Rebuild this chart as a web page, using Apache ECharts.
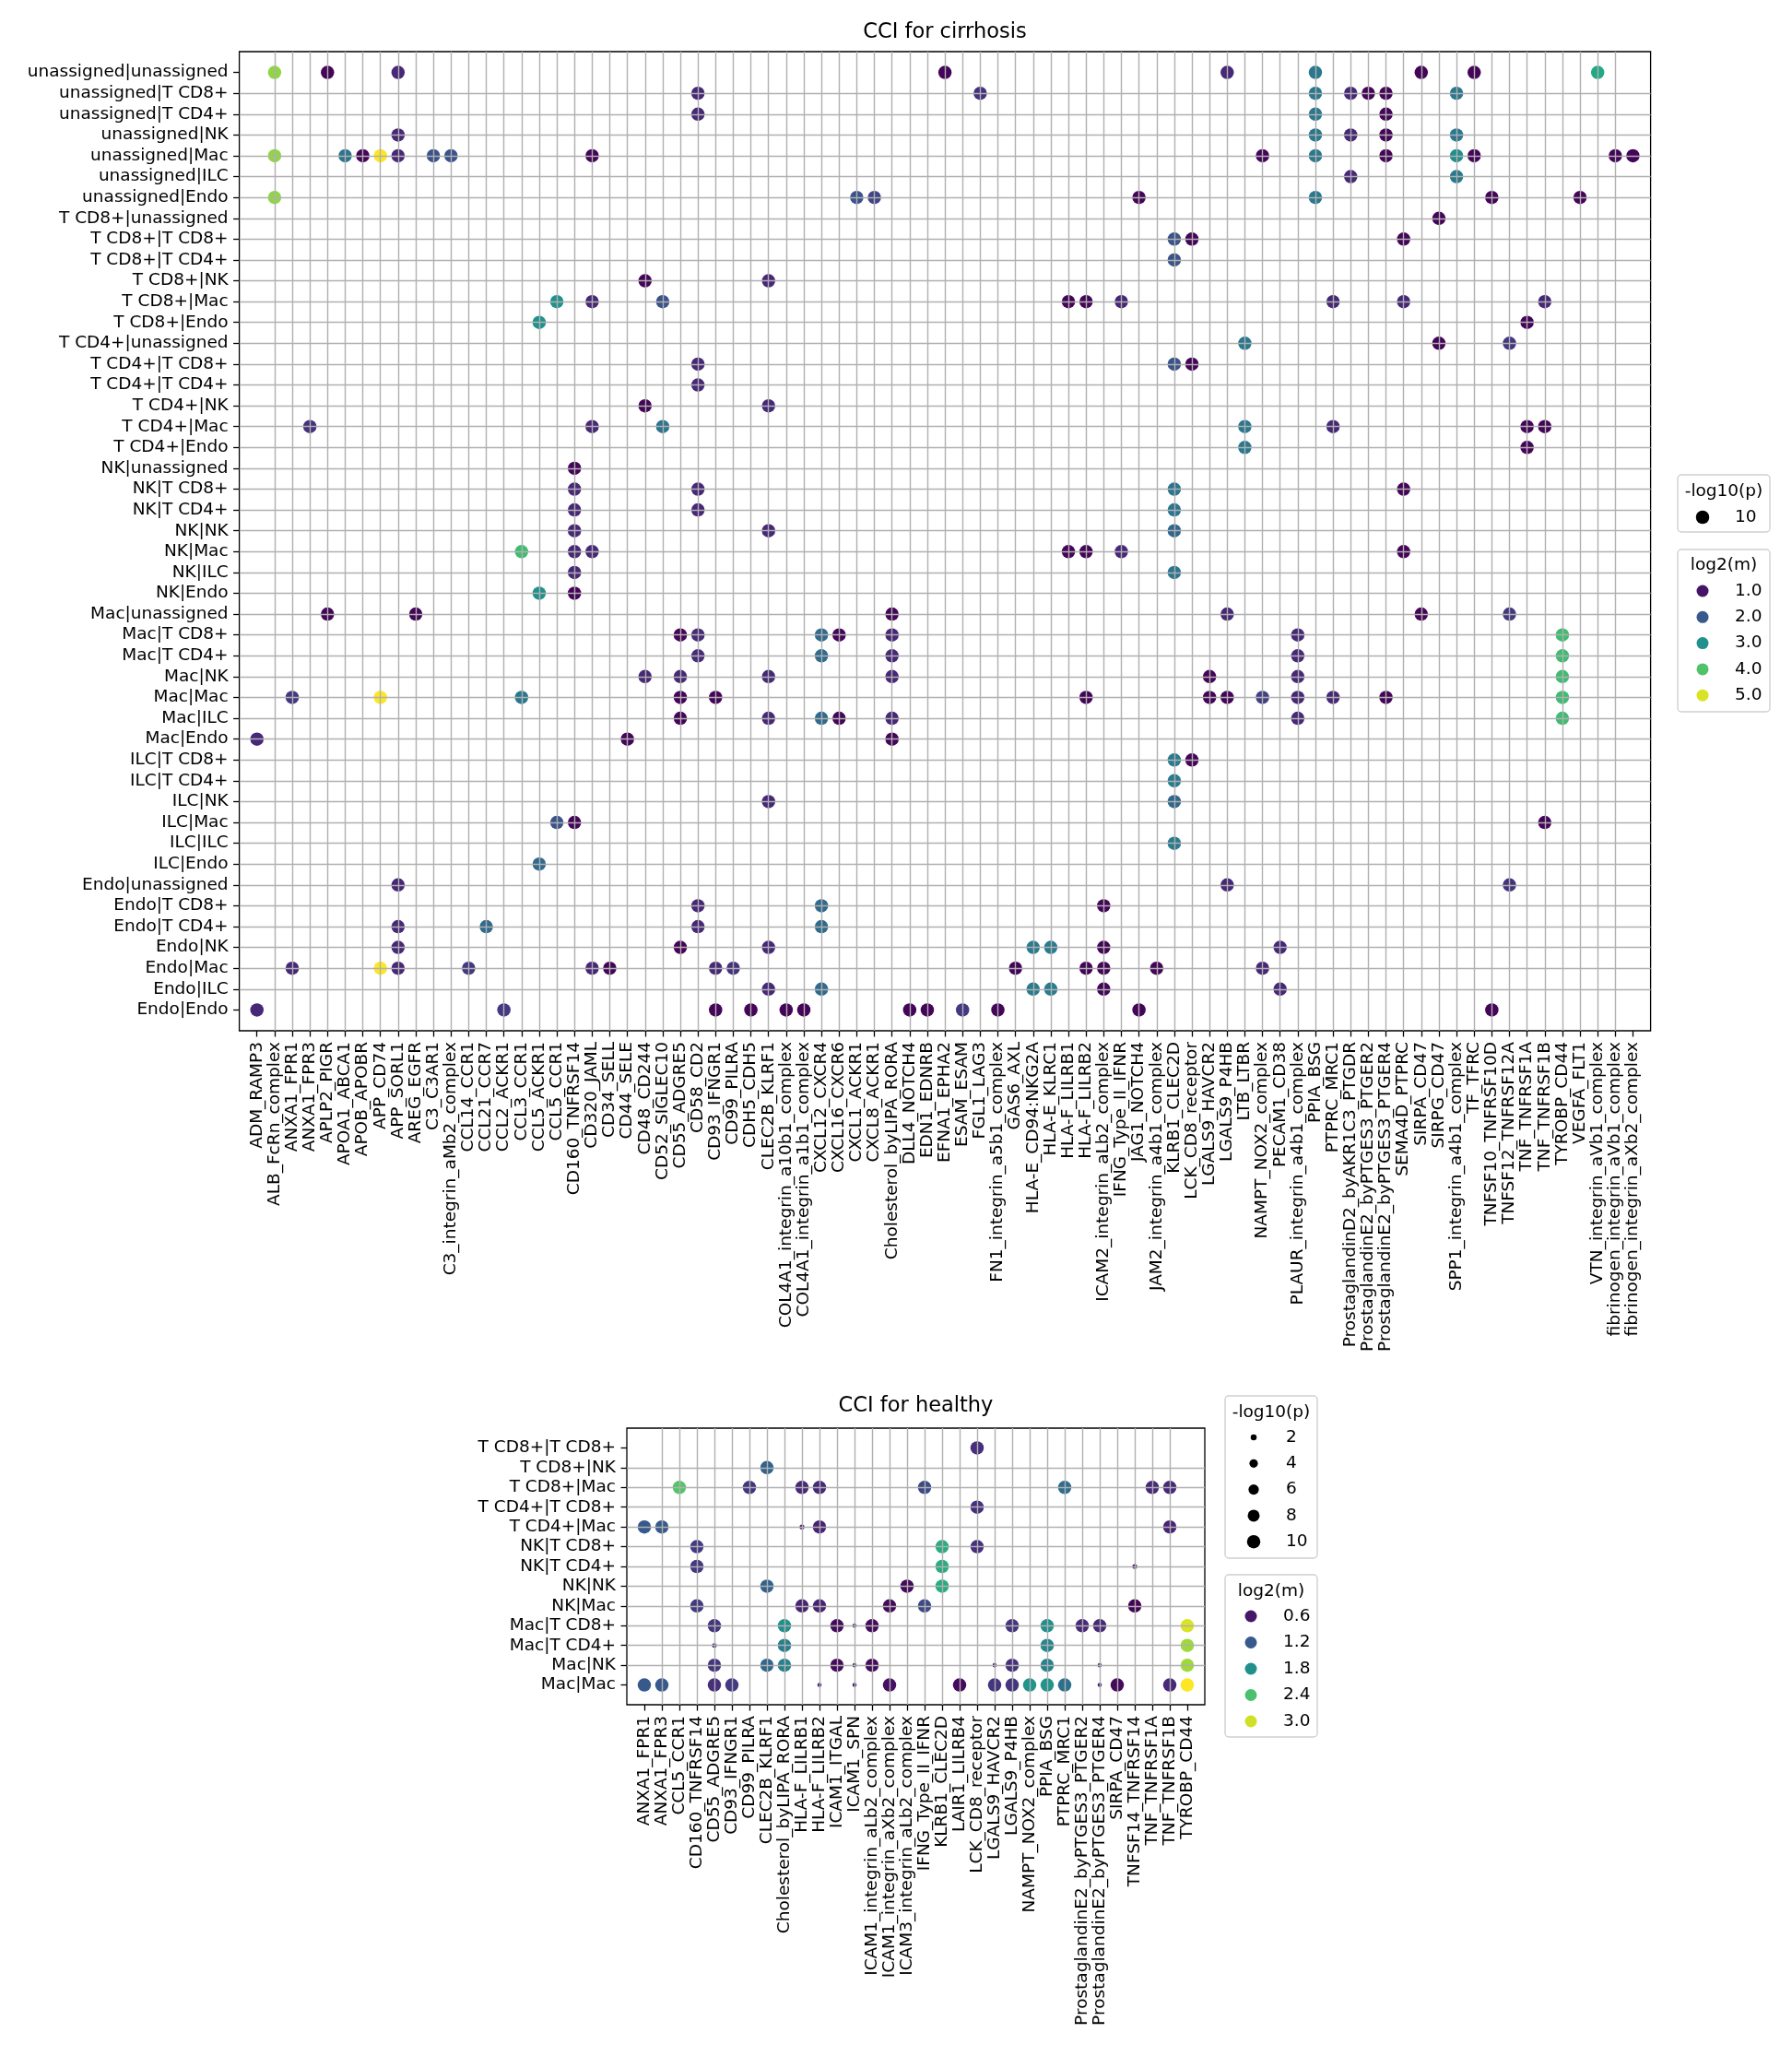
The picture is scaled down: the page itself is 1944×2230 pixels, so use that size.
<!DOCTYPE html>
<html>
<head>
<meta charset="utf-8">
<script src="https://cdn.jsdelivr.net/npm/echarts@6/dist/echarts.min.js"></script>
<style>
html, body { margin: 0; padding: 0; background: #fff; }
#main { width: 1944px; height: 2230px; }
</style>
</head>
<body>
<div id="main"></div>
<script>
// cirrhosis
var cirrhosisLR = ['ADM_RAMP3','ALB_FcRn_complex','ANXA1_FPR1','ANXA1_FPR3','APLP2_PIGR','APOA1_ABCA1','APOB_APOBR','APP_CD74','APP_SORL1','AREG_EGFR',
    'C3_C3AR1','C3_integrin_aMb2_complex','CCL14_CCR1','CCL21_CCR7','CCL2_ACKR1','CCL3_CCR1','CCL5_ACKR1','CCL5_CCR1','CD160_TNFRSF14','CD320_JAML',
    'CD34_SELL','CD44_SELE','CD48_CD244','CD52_SIGLEC10','CD55_ADGRE5','CD58_CD2','CD93_IFNGR1','CD99_PILRA','CDH5_CDH5','CLEC2B_KLRF1',
    'COL4A1_integrin_a10b1_complex','COL4A1_integrin_a1b1_complex','CXCL12_CXCR4','CXCL16_CXCR6','CXCL1_ACKR1','CXCL8_ACKR1','Cholesterol_byLIPA_RORA','DLL4_NOTCH4','EDN1_EDNRB','EFNA1_EPHA2',
    'ESAM_ESAM','FGL1_LAG3','FN1_integrin_a5b1_complex','GAS6_AXL','HLA-E_CD94:NKG2A','HLA-E_KLRC1','HLA-F_LILRB1','HLA-F_LILRB2','ICAM2_integrin_aLb2_complex','IFNG_Type_II_IFNR',
    'JAG1_NOTCH4','JAM2_integrin_a4b1_complex','KLRB1_CLEC2D','LCK_CD8_receptor','LGALS9_HAVCR2','LGALS9_P4HB','LTB_LTBR','NAMPT_NOX2_complex','PECAM1_CD38','PLAUR_integrin_a4b1_complex',
    'PPIA_BSG','PTPRC_MRC1','ProstaglandinD2_byAKR1C3_PTGDR','ProstaglandinE2_byPTGES3_PTGER2','ProstaglandinE2_byPTGES3_PTGER4','SEMA4D_PTPRC','SIRPA_CD47','SIRPG_CD47','SPP1_integrin_a4b1_complex','TF_TFRC',
    'TNFSF10_TNFRSF10D','TNFSF12_TNFRSF12A','TNF_TNFRSF1A','TNF_TNFRSF1B','TYROBP_CD44','VEGFA_FLT1','VTN_integrin_aVb1_complex','fibrinogen_integrin_aVb1_complex','fibrinogen_integrin_aXb2_complex'];

var cirrhosisPairs = ['unassigned|unassigned','unassigned|T CD8+','unassigned|T CD4+','unassigned|NK','unassigned|Mac','unassigned|ILC','unassigned|Endo',
    'T CD8+|unassigned','T CD8+|T CD8+','T CD8+|T CD4+','T CD8+|NK','T CD8+|Mac','T CD8+|Endo',
    'T CD4+|unassigned','T CD4+|T CD8+','T CD4+|T CD4+','T CD4+|NK','T CD4+|Mac','T CD4+|Endo',
    'NK|unassigned','NK|T CD8+','NK|T CD4+','NK|NK','NK|Mac','NK|ILC','NK|Endo',
    'Mac|unassigned','Mac|T CD8+','Mac|T CD4+','Mac|NK','Mac|Mac','Mac|ILC','Mac|Endo',
    'ILC|T CD8+','ILC|T CD4+','ILC|NK','ILC|Mac','ILC|ILC','ILC|Endo',
    'Endo|unassigned','Endo|T CD8+','Endo|T CD4+','Endo|NK','Endo|Mac','Endo|ILC','Endo|Endo'];

// one row per pair: [LR index, log2(m)]; every dot has -log10(p) = 10
var cirrhosisDots = [
    [[1,4.5],[4,0.8],[8,1.25],[39,0.8],[55,1.25],[60,2.55],[66,0.8],[69,0.8],[76,3.45]],
    [[25,1.25],[41,1.4],[60,2.55],[62,1.25],[63,0.8],[64,0.8],[68,2.55]],
    [[25,1.25],[60,2.55],[64,0.8]],
    [[8,1.25],[60,2.55],[62,1.25],[64,0.8],[68,2.55]],
    [[1,4.5],[5,2.5],[6,0.8],[7,5.25],[8,1.25],[10,1.9],[11,1.9],[19,0.8],[57,0.8],[60,2.55],[64,0.8],[68,2.95],[69,0.8],[77,0.8],[78,0.8]],
    [[62,1.25],[68,2.55]],
    [[1,4.5],[34,1.9],[35,1.65],[50,0.8],[60,2.55],[70,0.8],[75,0.8]],
    [[67,0.8]],
    [[52,1.9],[53,0.8],[65,0.8]],
    [[52,1.9]],
    [[22,0.8],[29,1.25]],
    [[17,3.0],[19,1.25],[23,1.9],[46,0.8],[47,0.8],[49,1.25],[61,1.25],[65,1.25],[73,1.25]],
    [[16,3.0],[72,0.8]],
    [[56,2.55],[67,0.8],[71,1.5]],
    [[25,1.25],[52,1.9],[53,0.8]],
    [[25,1.25]],
    [[22,0.8],[29,1.25]],
    [[3,1.4],[19,1.25],[23,2.5],[56,2.55],[61,1.25],[72,0.8],[73,0.8]],
    [[56,2.55],[72,0.8]],
    [[18,0.8]],
    [[18,1.25],[25,1.25],[52,2.5],[65,0.8]],
    [[18,1.25],[25,1.25],[52,2.5]],
    [[18,1.25],[29,1.25],[52,2.25]],
    [[15,3.85],[18,1.25],[19,1.25],[46,0.8],[47,0.8],[49,1.25],[65,0.8]],
    [[18,1.25],[52,2.5]],
    [[16,3.0],[18,0.8]],
    [[4,0.8],[9,0.8],[36,0.8],[55,1.25],[66,0.8],[71,1.5]],
    [[24,0.8],[25,1.3],[32,2.3],[33,0.8],[36,1.25],[59,1.25],[74,3.85]],
    [[25,1.3],[32,2.3],[36,1.25],[59,1.25],[74,3.85]],
    [[22,1.25],[24,1.25],[29,1.25],[36,1.25],[54,0.8],[59,1.25],[74,3.85]],
    [[2,1.5],[7,5.25],[15,2.55],[24,0.8],[26,0.8],[47,0.8],[54,0.8],[55,0.8],[57,1.6],[59,1.25],[61,1.25],[64,0.8],[74,3.85]],
    [[24,0.8],[29,1.25],[32,2.3],[33,0.8],[36,1.25],[59,1.25],[74,3.85]],
    [[0,1.25],[21,0.8],[36,0.8]],
    [[52,2.6],[53,0.8]],
    [[52,2.6]],
    [[29,1.25],[52,2.25]],
    [[17,1.9],[18,0.8],[73,0.8]],
    [[52,2.6]],
    [[16,2.3]],
    [[8,1.25],[55,1.25],[71,1.4]],
    [[25,1.25],[32,2.3],[48,0.8]],
    [[8,1.25],[13,2.3],[25,1.25],[32,2.3]],
    [[8,1.25],[24,0.8],[29,1.25],[44,2.6],[45,2.6],[48,0.8],[58,1.25]],
    [[2,1.25],[7,5.25],[8,1.25],[12,1.5],[19,1.25],[20,0.8],[26,1.25],[27,1.4],[43,0.8],[47,0.8],[48,0.8],[51,0.8],[57,1.25]],
    [[29,1.25],[32,2.3],[44,2.6],[45,2.6],[48,0.8],[58,1.25]],
    [[0,1.25],[14,1.5],[26,0.8],[28,0.8],[30,0.8],[31,0.8],[37,0.8],[38,0.8],[40,1.5],[42,0.8],[50,0.8],[70,0.8]]
];
var cirrhosisP = 10;
var cirrhosisColorTicks = [1.0, 2.0, 3.0, 4.0, 5.0];
var cirrhosisSizeTicks = [10];

// healthy
var healthyLR = ['ANXA1_FPR1','ANXA1_FPR3','CCL5_CCR1','CD160_TNFRSF14','CD55_ADGRE5','CD93_IFNGR1','CD99_PILRA','CLEC2B_KLRF1',
    'Cholesterol_byLIPA_RORA','HLA-F_LILRB1','HLA-F_LILRB2','ICAM1_ITGAL','ICAM1_SPN','ICAM1_integrin_aLb2_complex','ICAM1_integrin_aXb2_complex',
    'ICAM3_integrin_aLb2_complex','IFNG_Type_II_IFNR','KLRB1_CLEC2D','LAIR1_LILRB4','LCK_CD8_receptor','LGALS9_HAVCR2','LGALS9_P4HB',
    'NAMPT_NOX2_complex','PPIA_BSG','PTPRC_MRC1','ProstaglandinE2_byPTGES3_PTGER2','ProstaglandinE2_byPTGES3_PTGER4','SIRPA_CD47',
    'TNFSF14_TNFRSF14','TNF_TNFRSF1A','TNF_TNFRSF1B','TYROBP_CD44'];

var healthyPairs = ['T CD8+|T CD8+','T CD8+|NK','T CD8+|Mac','T CD4+|T CD8+','T CD4+|Mac','NK|T CD8+','NK|T CD4+',
    'NK|NK','NK|Mac','Mac|T CD8+','Mac|T CD4+','Mac|NK','Mac|Mac'];

// one row per pair: [LR index, log2(m), -log10(p)]
var healthyDots = [
    [[19,0.8,10]],
    [[7,1.3,10]],
    [[2,2.45,10],[6,0.85,10],[9,0.75,10],[10,0.75,10],[16,1.05,10],[24,1.42,10],[29,0.75,10],[30,0.75,10]],
    [[19,0.8,10]],
    [[0,1.2,10],[1,1.2,10],[9,0.6,1.3],[10,0.7,10],[30,0.7,10]],
    [[3,0.9,10],[17,2.15,10],[19,0.8,10]],
    [[3,0.9,10],[17,2.15,10],[28,0.6,1.3]],
    [[7,1.3,10],[15,0.5,10],[17,2.15,10]],
    [[3,0.9,10],[9,0.7,10],[10,0.7,10],[14,0.5,10],[16,1.05,10],[28,0.45,10]],
    [[4,0.85,10],[8,1.8,10],[11,0.5,10],[12,0.6,1.0],[13,0.5,10],[21,0.85,10],[23,1.8,10],[25,0.75,10],[26,0.75,10],[31,3.05,10]],
    [[4,0.7,1.2],[8,1.6,10],[23,1.7,10],[31,2.8,10]],
    [[4,0.85,10],[7,1.35,10],[8,1.65,10],[11,0.5,10],[12,0.6,1.0],[13,0.5,10],[20,0.65,1.0],[21,0.8,10],[23,1.65,10],[26,0.7,1.0],[31,2.8,10]],
    [[0,1.2,10],[1,1.2,10],[4,0.8,10],[5,0.9,10],[10,0.7,1.0],[12,0.7,1.0],[14,0.55,10],[18,0.5,10],[20,0.85,10],[21,0.85,10],[22,1.85,10],[23,1.85,10],[24,1.45,10],[26,0.7,1.0],[27,0.5,10],[30,0.75,10],[31,3.2,10]]
];
var healthyColorTicks = [0.6, 1.2, 1.8, 2.4, 3.0];
var healthySizeTicks = [2, 4, 6, 8, 10];

var viridis = ['#440154','#482475','#414487','#355f8d','#2a788e','#21918c','#22a884','#44bf70','#7ad151','#bddf26','#fde725'];
var FONT = 'DejaVu Sans';
var cirrhosisRange = [0.75, 5.25];
var healthyRange = [0.43, 3.2];

function dotSize(p) {
    return 14.5 * Math.sqrt(p / 10);
}

// same linear interpolation the visualMap does, for the legend markers
function viridisAt(v, range) {
    var t = (v - range[0]) / (range[1] - range[0]);
    t = Math.max(0, Math.min(1, t)) * (viridis.length - 1);
    var i = Math.min(Math.floor(t), viridis.length - 2), f = t - i;
    var a = viridis[i], b = viridis[i + 1];
    var c = [1, 3, 5].map(function (k) {
        var x = parseInt(a.substr(k, 2), 16), y = parseInt(b.substr(k, 2), 16);
        return Math.round(x + (y - x) * f);
    });
    return 'rgb(' + c.join(',') + ')';
}

function buildData(rows, pConst) {
    var out = [];
    rows.forEach(function (row, r) {
        row.forEach(function (d) {
            out.push([d[0], r, d[1], pConst != null ? pConst : d[2]]);
        });
    });
    return out;
}

function indexList(n) {
    var a = [];
    for (var i = 0; i < n; i++) a.push(i);
    return a;
}

function xAxisFor(gi, names) {
    return {
        gridIndex: gi, type: 'value', position: 'bottom', min: -1, max: names.length, interval: 1, z: 3,
        axisLine: { show: false, onZero: false },
        axisTick: { length: 6.5, lineStyle: { color: '#000', width: 1.3 }, customValues: indexList(names.length) },
        axisLabel: {
            rotate: 90, margin: 12, fontSize: 18.5, color: '#000', fontFamily: FONT,
            customValues: indexList(names.length),
            formatter: function (v) { return names[v] || ''; }
        },
        splitLine: { show: true, showMinLine: false, showMaxLine: false, lineStyle: { color: '#b0b0b0', width: 1.4 } }
    };
}

function yAxisFor(gi, names) {
    return {
        gridIndex: gi, type: 'value', position: 'left', inverse: true, min: -1, max: names.length, interval: 1, z: 3,
        axisLine: { show: false, onZero: false },
        axisTick: { length: 6.5, lineStyle: { color: '#000', width: 1.3 }, customValues: indexList(names.length) },
        axisLabel: {
            margin: 12, fontSize: 18.5, color: '#000', fontFamily: FONT,
            customValues: indexList(names.length),
            formatter: function (v) { return names[v] || ''; }
        },
        splitLine: { show: true, showMinLine: false, showMaxLine: false, lineStyle: { color: '#b0b0b0', width: 1.4 } }
    };
}

// matplotlib style legend box
function legendBox(box, title, items) {
    var els = [{
        type: 'rect',
        shape: { x: box.x, y: box.y, width: box.w, height: box.h, r: 4 },
        style: { fill: 'rgba(255,255,255,0.8)', stroke: '#d0d0d0', lineWidth: 1.4 }
    }, {
        type: 'text', x: box.x + box.w / 2, y: box.titleY,
        style: { text: title, fill: '#000', font: '18.5px "' + FONT + '"', textAlign: 'center', textVerticalAlign: 'middle', align: 'center', verticalAlign: 'middle' }
    }];
    items.forEach(function (it, i) {
        var cy = box.firstY + i * box.step;
        els.push({
            type: 'circle',
            shape: { cx: box.markX, cy: cy, r: it.size / 2 },
            style: { fill: it.color }
        });
        els.push({
            type: 'text', x: box.textX, y: cy,
            style: { text: it.label, fill: '#000', font: '18.5px "' + FONT + '"', textAlign: 'left', textVerticalAlign: 'middle', align: 'left', verticalAlign: 'middle' }
        });
    });
    return els;
}

function chartTitle(text, x, y) {
    return {
        type: 'text', x: x, y: y,
        style: { text: text, fill: '#000', font: '22.5px "' + FONT + '"', textAlign: 'center', textVerticalAlign: 'middle', align: 'center', verticalAlign: 'middle' }
    };
}

var graphics = [];
graphics.push(chartTitle('CCI for cirrhosis', 1025, 35));
graphics.push(chartTitle('CCI for healthy', 993.5, 1525));
graphics = graphics.concat(legendBox(
    { x: 1820, y: 515, w: 100, h: 62, titleY: 533, firstY: 561, step: 28, markX: 1847, textX: 1882 },
    '-log10(p)',
    cirrhosisSizeTicks.map(function (p) { return { label: String(p), color: '#000', size: dotSize(p) }; })
));
graphics = graphics.concat(legendBox(
    { x: 1820, y: 596, w: 100, h: 176, titleY: 613, firstY: 641, step: 28.3, markX: 1847, textX: 1882 },
    'log2(m)',
    cirrhosisColorTicks.map(function (v) { return { label: v.toFixed(1), color: viridisAt(v, cirrhosisRange), size: 13 }; })
));
graphics = graphics.concat(legendBox(
    { x: 1329, y: 1514, w: 100, h: 176, titleY: 1532, firstY: 1559, step: 28.3, markX: 1360, textX: 1395 },
    '-log10(p)',
    healthySizeTicks.map(function (p) { return { label: String(p), color: '#000', size: dotSize(p) }; })
));
graphics = graphics.concat(legendBox(
    { x: 1329, y: 1708, w: 100, h: 176, titleY: 1726, firstY: 1753, step: 28.5, markX: 1357, textX: 1392 },
    'log2(m)',
    healthyColorTicks.map(function (v) { return { label: v.toFixed(1), color: viridisAt(v, healthyRange), size: 13 }; })
));

var option = {
    animation: false,
    backgroundColor: '#fff',
    textStyle: { fontFamily: FONT },
    grid: [
        { left: 259.6, top: 56, width: 1531, height: 1062, show: true, borderColor: '#000', borderWidth: 1.3, backgroundColor: 'transparent' },
        { left: 680, top: 1549, width: 627, height: 300, show: true, borderColor: '#000', borderWidth: 1.3, backgroundColor: 'transparent' }
    ],
    xAxis: [xAxisFor(0, cirrhosisLR), xAxisFor(1, healthyLR)],
    yAxis: [yAxisFor(0, cirrhosisPairs), yAxisFor(1, healthyPairs)],
    visualMap: [
        { type: 'continuous', show: false, seriesIndex: 0, dimension: 2, min: cirrhosisRange[0], max: cirrhosisRange[1], inRange: { color: viridis } },
        { type: 'continuous', show: false, seriesIndex: 1, dimension: 2, min: healthyRange[0], max: healthyRange[1], inRange: { color: viridis } }
    ],
    series: [
        {
            name: 'cirrhosis', type: 'scatter', xAxisIndex: 0, yAxisIndex: 0, z: 2,
            itemStyle: { opacity: 1 },
            symbolSize: function (val) { return dotSize(val[3]); },
            data: buildData(cirrhosisDots, cirrhosisP)
        },
        {
            name: 'healthy', type: 'scatter', xAxisIndex: 1, yAxisIndex: 1, z: 2,
            itemStyle: { opacity: 1 },
            symbolSize: function (val) { return dotSize(val[3]); },
            data: buildData(healthyDots)
        }
    ],
    graphic: graphics
};

var chart = echarts.init(document.getElementById('main'), null, { renderer: 'canvas' });
chart.setOption(option);
</script>
</body>
</html>
